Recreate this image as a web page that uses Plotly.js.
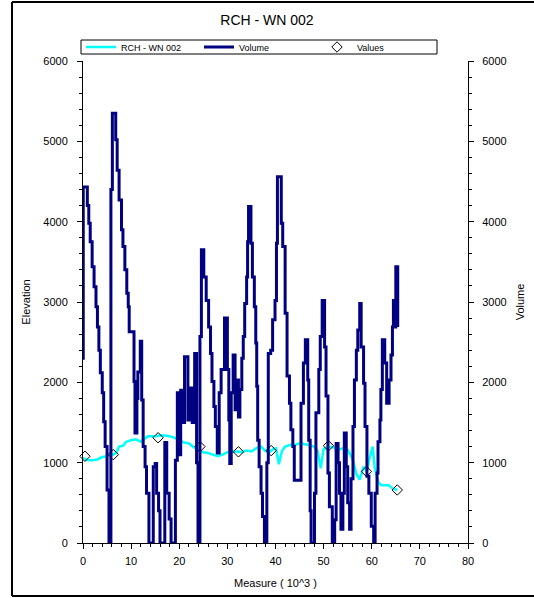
<!DOCTYPE html>
<html>
<head>
<meta charset="utf-8">
<script src="https://cdn.plot.ly/plotly-3.0.1.min.js"></script>
<style>
  html, body { margin: 0; padding: 0; background: #ffffff; overflow: hidden; }
  #chart { width: 534px; height: 598px; }
</style>
</head>
<body>
<div id="chart"></div>
<script>
// ---- Data ----
const chartTitle = "RCH - WN 002";
const seriesNames = ["RCH - WN 002", "Volume", "Values"];

// Elevation profile (cyan line)
const elevX = [0, 1, 2, 3, 4, 5, 5.5, 6.3, 7, 7.5, 8.3, 9, 10, 11, 12, 12.8, 13.5, 15, 16.5, 18, 19, 20, 21, 22, 23, 24, 25, 26, 27, 28, 29, 30, 31, 32, 33, 34, 35, 36, 37, 38, 38.7, 39.5, 40.1, 40.7, 41.3, 42, 43, 44, 45, 46, 47, 48, 48.7, 49.4, 50, 51, 52, 53, 54, 55, 56, 56.8, 57.5, 58.3, 59, 59.5, 60.2, 60.6, 61.3, 62, 63.5, 64.3, 65.3];
const elevY = [1060, 1030, 1030, 1040, 1070, 1080, 1110, 1100, 1130, 1200, 1210, 1260, 1280, 1290, 1260, 1300, 1330, 1330, 1340, 1330, 1310, 1280, 1250, 1240, 1200, 1150, 1130, 1120, 1100, 1080, 1100, 1130, 1140, 1140, 1130, 1150, 1140, 1180, 1200, 1140, 1130, 1170, 1180, 980, 1140, 1200, 1220, 1220, 1240, 1230, 1220, 1200, 1150, 930, 1170, 1200, 1190, 1160, 1180, 1160, 1050, 860, 790, 950, 900, 1050, 1200, 950, 760, 720, 720, 680, 660];

// Volume (navy step line)
const volX = [0, 0.05, 0.9, 1.2, 1.5, 1.9, 2.3, 2.7, 3.0, 3.3, 3.6, 4.0, 4.3, 4.6, 5.0, 5.4, 5.8, 6.1, 6.8, 7.1, 7.5, 8.0, 8.3, 8.7, 9.1, 9.4, 9.6, 10.6, 10.8, 11.2, 11.4, 11.9, 12.2, 12.5, 12.9, 13.2, 13.7, 14.6, 15.0, 15.3, 15.7, 16.0, 17.0, 17.4, 17.9, 18.3, 19.2, 19.6, 19.9, 20.3, 20.7, 21.1, 21.8, 22.3, 22.7, 23.2, 23.6, 23.9, 24.3, 24.6, 25.1, 25.6, 26.1, 26.5, 26.8, 27.2, 27.5, 27.9, 28.3, 28.7, 29.4, 30.0, 30.3, 30.5, 30.8, 31.2, 31.6, 31.9, 32.3, 32.6, 33.0, 33.3, 33.6, 34.0, 34.2, 34.4, 34.9, 35.2, 35.6, 35.9, 36.1, 36.3, 36.6, 37.0, 37.3, 37.7, 38.2, 38.5, 39.0, 39.4, 39.9, 40.2, 40.4, 41.2, 41.5, 42.0, 42.4, 42.9, 43.2, 43.6, 43.9, 45.3, 45.8, 46.2, 46.7, 46.9, 47.2, 47.4, 48.1, 48.4, 49.0, 49.3, 49.7, 50.2, 50.5, 50.9, 51.2, 51.8, 52.3, 52.6, 53.0, 53.3, 53.6, 54.0, 54.3, 54.7, 55.0, 55.4, 55.7, 56.1, 56.4, 56.8, 57.1, 57.5, 57.8, 58.3, 58.6, 59.0, 59.4, 59.9, 60.4, 60.7, 61.1, 61.3, 61.7, 61.9, 62.2, 62.7, 63.1, 63.6, 64.0, 64.3, 64.5, 64.8, 65.0, 65.4];
const volY = [2300, 4430, 4200, 3980, 3750, 3440, 3190, 2940, 2690, 2400, 2120, 1870, 1510, 1200, 660, 0, 4400, 5350, 5020, 4640, 4270, 3900, 3690, 3400, 3110, 2940, 2630, 2010, 1370, 1800, 2130, 2510, 1780, 1200, 950, 620, 0, 950, 990, 620, 400, 0, 1250, 620, 300, 0, 1030, 1870, 1100, 1900, 1500, 2320, 1530, 1930, 1500, 2360, 1000, 0, 2570, 3650, 3310, 3020, 2690, 2360, 2010, 1700, 1450, 1120, 1870, 2160, 2800, 2160, 1530, 990, 1870, 2340, 1660, 2030, 1570, 1910, 2300, 2570, 2980, 3310, 3750, 4190, 3730, 3310, 2940, 2490, 1950, 1280, 950, 620, 330, 0, 1000, 2360, 2400, 2780, 3020, 3730, 4560, 3980, 3690, 2860, 2080, 1740, 1410, 1200, 780, 1740, 2240, 2530, 2030, 1280, 400, 0, 620, 1620, 2160, 2570, 3020, 2440, 1830, 870, 450, 0, 290, 1240, 1000, 620, 170, 620, 1370, 950, 500, 170, 800, 1450, 2030, 2400, 2650, 2980, 2440, 1990, 1450, 830, 620, 210, 0, 620, 870, 1260, 1530, 1910, 2530, 2240, 1740, 2030, 2340, 2690, 3020, 2690, 3440, 2690];

// Measured values (open diamonds)
const ptsX = [0.4, 6.3, 15.6, 24.3, 32.3, 39.1, 51.0, 58.9, 65.3];
const ptsY = [1080, 1100, 1310, 1200, 1135, 1150, 1210, 890, 660];

// Axis titles & ticks
const xTitle = "Measure ( 10^3 )";
const yTitle = "Elevation";
const y2Title = "Volume";
const xRange = [0, 80];
const yRange = [0, 6000];

// ---- Styling ----
const FONT = "Arial, 'Liberation Sans', sans-serif";
const tickFont = { family: FONT, size: 11, color: "#000" };

const traces = [
  {
    name: seriesNames[0], x: elevX, y: elevY, type: "scatter", mode: "lines",
    line: { color: "#00ffff", width: 2.5 }, xaxis: "x", yaxis: "y", legendrank: 1
  },
  {
    name: seriesNames[1], x: volX, y: volY, type: "scatter", mode: "lines",
    line: { color: "#000080", width: 3, shape: "hv" }, xaxis: "x", yaxis: "y2", legendrank: 2
  },
  {
    name: seriesNames[2], x: ptsX, y: ptsY, type: "scatter", mode: "markers",
    marker: { symbol: "diamond-open", size: 8, color: "#000", line: { color: "#000", width: 1 } },
    xaxis: "x", yaxis: "y", legendrank: 3, cliponaxis: false
  }
];

const baseX = {
  range: xRange, dtick: 10, tick0: 0, showgrid: false, zeroline: false, fixedrange: true
};
const baseY = {
  range: yRange, dtick: 1000, tick0: 0, showgrid: false, zeroline: false, fixedrange: true
};

// paper-coordinate helpers for frame decoration (pixel -> paper)
const px2x = p => (p - 83) / 385;
const px2y = p => (543 - p) / 482;

const layout = {
  width: 534, height: 598,
  margin: { l: 83, r: 66, t: 61, b: 55, pad: 0 },
  paper_bgcolor: "#ffffff", plot_bgcolor: "#ffffff",
  font: { family: FONT, size: 11, color: "#000" },
  title: {
    text: chartTitle, font: { family: FONT, size: 14, color: "#000" },
    x: 0.5, xanchor: "center", xref: "container", y: 1 - 20 / 598, yanchor: "middle", yref: "container"
  },
  showlegend: true,
  legend: {
    orientation: "h", x: px2x(81), xanchor: "left", y: px2y(47), yanchor: "middle",
    borderwidth: 0, bgcolor: "rgba(0,0,0,0)",
    font: { family: FONT, size: 9, color: "#000" },
    entrywidth: 73, entrywidthmode: "pixels", traceorder: "normal"
  },
  xaxis: Object.assign({}, baseX, {
    anchor: "y", side: "bottom",
    showline: true, linecolor: "#000", linewidth: 1,
    ticks: "outside", ticklen: 5, tickwidth: 1, tickcolor: "#000",
    minor: { dtick: 2, ticks: "outside", ticklen: 3, tickcolor: "#000", tickwidth: 1, showgrid: false },
    tickfont: tickFont, ticklabelstandoff: 3,
    title: { text: xTitle, font: { family: FONT, size: 11, color: "#000" }, standoff: 13 }
  }),
  xaxis2: Object.assign({}, baseX, {
    overlaying: "x", anchor: "y", side: "bottom",
    showline: false, showticklabels: false,
    ticks: "inside", ticklen: 3, tickwidth: 1, tickcolor: "#000",
    minor: { dtick: 2, ticks: "inside", ticklen: 2, tickcolor: "#000", tickwidth: 1, showgrid: false }
  }),
  xaxis3: Object.assign({}, baseX, {
    overlaying: "x", anchor: "y", side: "top",
    showline: true, linecolor: "#000", linewidth: 1, showticklabels: false,
    ticks: "inside", ticklen: 5, tickwidth: 1, tickcolor: "#000",
    minor: { dtick: 2, ticks: "inside", ticklen: 3, tickcolor: "#000", tickwidth: 1, showgrid: false }
  }),
  yaxis: Object.assign({}, baseY, {
    anchor: "x", side: "left",
    showline: true, linecolor: "#000", linewidth: 1,
    ticks: "outside", ticklen: 5, tickwidth: 1, tickcolor: "#000",
    minor: { dtick: 200, ticks: "outside", ticklen: 3, tickcolor: "#000", tickwidth: 1, showgrid: false },
    tickfont: tickFont, ticklabelstandoff: 7,
    title: { text: yTitle, font: { family: FONT, size: 11, color: "#000" }, standoff: 10 }
  }),
  yaxis2: Object.assign({}, baseY, {
    overlaying: "y", anchor: "x", side: "right",
    showline: true, linecolor: "#000", linewidth: 1,
    ticks: "outside", ticklen: 5, tickwidth: 1, tickcolor: "#000",
    minor: { dtick: 200, ticks: "outside", ticklen: 3, tickcolor: "#000", tickwidth: 1, showgrid: false },
    tickfont: tickFont, ticklabelstandoff: 6,
    title: { text: y2Title, font: { family: FONT, size: 11, color: "#000" }, standoff: 10 }
  }),
  yaxis3: Object.assign({}, baseY, {
    overlaying: "y", anchor: "x", side: "left",
    showline: false, showticklabels: false,
    ticks: "inside", ticklen: 4, tickwidth: 1, tickcolor: "#000",
    minor: { dtick: 200, ticks: "inside", ticklen: 3, tickcolor: "#000", tickwidth: 1, showgrid: false }
  }),
  yaxis4: Object.assign({}, baseY, {
    overlaying: "y", anchor: "x", side: "right",
    showline: false, showticklabels: false,
    ticks: "inside", ticklen: 4, tickwidth: 1, tickcolor: "#000",
    minor: { dtick: 200, ticks: "inside", ticklen: 3, tickcolor: "#000", tickwidth: 1, showgrid: false }
  }),
  shapes: [
    // outer frame: left, top, bottom edges
    { type: "line", xref: "paper", yref: "paper", x0: px2x(12), x1: px2x(12), y0: px2y(596), y1: px2y(2),
      line: { color: "#000", width: 2 }, layer: "below" },
    { type: "line", xref: "paper", yref: "paper", x0: px2x(12), x1: px2x(534), y0: px2y(2), y1: px2y(2),
      line: { color: "#000", width: 2 }, layer: "below" },
    { type: "line", xref: "paper", yref: "paper", x0: px2x(12), x1: px2x(534), y0: px2y(596), y1: px2y(596),
      line: { color: "#000", width: 2 }, layer: "below" },
    // legend box
    { type: "rect", xref: "paper", yref: "paper", x0: px2x(81), x1: px2x(437), y0: px2y(54), y1: px2y(40),
      line: { color: "#000", width: 1 }, fillcolor: "#ffffff", layer: "below" }
  ]
};

Plotly.newPlot("chart", traces, layout, { staticPlot: true, displayModeBar: false });
</script>
</body>
</html>
